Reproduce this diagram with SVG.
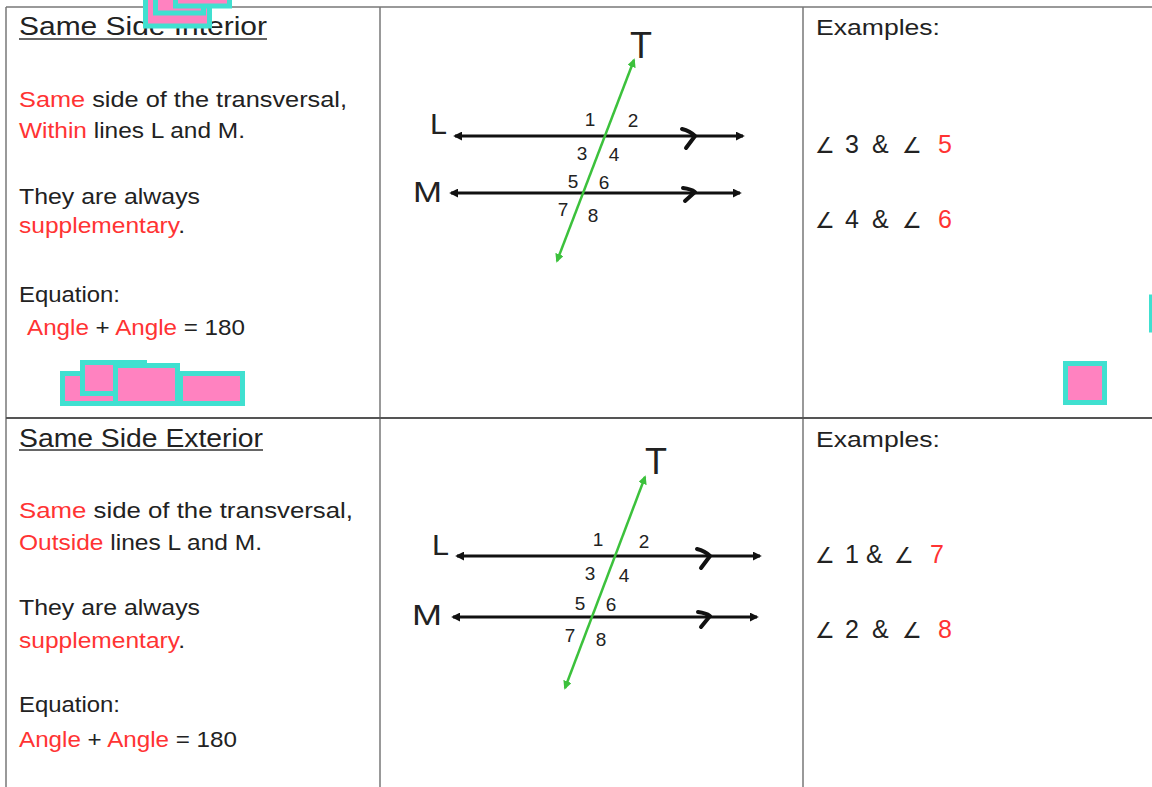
<svg xmlns="http://www.w3.org/2000/svg" width="1152" height="787" viewBox="0 0 1152 787">
<style>
text{font-family:"Liberation Sans","DejaVu Sans",sans-serif;fill:#222}
.r{fill:#ff3333}
.t{font-size:26px}
.b{font-size:22px}
.n{font-size:19px;text-anchor:middle}
.big{font-size:30px}
.ex{font-size:25px}
.ang{font-family:"DejaVu Sans",sans-serif;font-size:22px}
.grid{stroke:#777;stroke-width:1.5;fill:none}
.par{stroke:#111;stroke-width:3;fill:none}
.chev{stroke:#111;stroke-width:4;fill:none;stroke-linecap:round;stroke-linejoin:round}
.tr{stroke:#3cc13c;stroke-width:2.5;fill:none}
.sticky{fill:#ff82c0;stroke:#40e0d0;stroke-width:5}
</style>
<defs>
<marker id="ab" viewBox="0 0 10 10" refX="8" refY="5" markerWidth="3" markerHeight="3" orient="auto-start-reverse"><path d="M0,0 L10,5 L0,10 z" fill="#111"/></marker>
<marker id="ag" viewBox="0 0 10 10" refX="8" refY="5" markerWidth="3.5" markerHeight="3.5" orient="auto-start-reverse"><path d="M0,0 L10,5 L0,10 z" fill="#3cc13c"/></marker>
</defs>
<rect width="1152" height="787" fill="#fff"/>
<g id="grid">
<line x1="6" y1="7" x2="1152" y2="7" stroke="#999" stroke-width="2"/>
<line class="grid" x1="6" y1="7" x2="6" y2="787" stroke="#666"/>
<line class="grid" x1="380" y1="7" x2="380" y2="787"/>
<line class="grid" x1="803" y1="7" x2="803" y2="787"/>
<line x1="6" y1="418" x2="1152" y2="418" stroke="#555" stroke-width="2"/>
</g>
<g id="interior-text">
<text class="t" x="19" y="35" textLength="248" lengthAdjust="spacingAndGlyphs">Same Side Interior</text>
<line x1="19" y1="39" x2="267" y2="39" stroke="#333" stroke-width="1.5"/>
<text class="b" x="19" y="107" textLength="328" lengthAdjust="spacingAndGlyphs"><tspan class="r">Same</tspan> side of the transversal,</text>
<text class="b" x="19" y="138" textLength="226" lengthAdjust="spacingAndGlyphs"><tspan class="r">Within</tspan> lines L and M.</text>
<text class="b" x="19" y="204" textLength="181" lengthAdjust="spacingAndGlyphs">They are always</text>
<text class="b" x="19" y="233" textLength="166" lengthAdjust="spacingAndGlyphs"><tspan class="r">supplementary</tspan>.</text>
<text class="b" x="19" y="302" textLength="101" lengthAdjust="spacingAndGlyphs">Equation:</text>
<text class="b" x="27" y="335" textLength="218" lengthAdjust="spacingAndGlyphs"><tspan class="r">Angle</tspan> + <tspan class="r">Angle</tspan> = 180</text>
</g>
<g id="interior-figure">
<g id="connectors-1">
<line class="par" x1="455" y1="136" x2="743" y2="136" marker-start="url(#ab)" marker-end="url(#ab)"/>
<path class="chev" d="M682,129 Q690,131 695,136 L686,148"/>
<line class="par" x1="451" y1="193" x2="740" y2="193" marker-start="url(#ab)" marker-end="url(#ab)"/>
<path class="chev" d="M683,188 Q691,189 695,192 L685,201"/>
<line class="tr" x1="634" y1="60" x2="557" y2="261" marker-start="url(#ag)" marker-end="url(#ag)"/>
</g>
<text x="641" y="58" text-anchor="middle" style="font-size:36px">T</text>
<text class="big" x="430" y="134" textLength="17" lengthAdjust="spacingAndGlyphs">L</text>
<text class="big" x="413" y="202" textLength="29" lengthAdjust="spacingAndGlyphs">M</text>
<text class="n" x="590" y="126">1</text>
<text class="n" x="633" y="127">2</text>
<text class="n" x="582" y="160">3</text>
<text class="n" x="614" y="161">4</text>
<text class="n" x="573" y="188">5</text>
<text class="n" x="604" y="189">6</text>
<text class="n" x="563" y="216">7</text>
<text class="n" x="593" y="222">8</text>
</g>
<g id="interior-examples">
<text class="b" x="816" y="35" textLength="124" lengthAdjust="spacingAndGlyphs">Examples:</text>
<text class="ang" x="815" y="153">∠</text><text class="ex" x="845" y="153">3</text><text class="ex" x="872" y="153">&amp;</text><text class="ang" x="902" y="153">∠</text><text class="ex r" x="938" y="153">5</text>
<text class="ang" x="815" y="228">∠</text><text class="ex" x="845" y="228">4</text><text class="ex" x="872" y="228">&amp;</text><text class="ang" x="902" y="228">∠</text><text class="ex r" x="938" y="228">6</text>
</g>
<g id="exterior-text">
<text class="t" x="19" y="447" textLength="244" lengthAdjust="spacingAndGlyphs">Same Side Exterior</text>
<line x1="19" y1="450" x2="263" y2="450" stroke="#333" stroke-width="1.5"/>
<text class="b" x="19" y="518" textLength="334" lengthAdjust="spacingAndGlyphs"><tspan class="r">Same</tspan>  side of the transversal,</text>
<text class="b" x="19" y="550" textLength="243" lengthAdjust="spacingAndGlyphs"><tspan class="r">Outside</tspan> lines L and M.</text>
<text class="b" x="19" y="615" textLength="181" lengthAdjust="spacingAndGlyphs">They are always</text>
<text class="b" x="19" y="648" textLength="166" lengthAdjust="spacingAndGlyphs"><tspan class="r">supplementary</tspan>.</text>
<text class="b" x="19" y="712" textLength="101" lengthAdjust="spacingAndGlyphs">Equation:</text>
<text class="b" x="19" y="747" textLength="218" lengthAdjust="spacingAndGlyphs"><tspan class="r">Angle</tspan> + <tspan class="r">Angle</tspan> = 180</text>
</g>
<g id="exterior-figure">
<g id="connectors-2">
<line class="par" x1="457" y1="556" x2="760" y2="556" marker-start="url(#ab)" marker-end="url(#ab)"/>
<path class="chev" d="M697,549 Q705,551 710,556 L701,568"/>
<line class="par" x1="453" y1="617" x2="757" y2="617" marker-start="url(#ab)" marker-end="url(#ab)"/>
<path class="chev" d="M698,612 Q706,613 710,616 L701,627"/>
<line class="tr" x1="645" y1="477" x2="565" y2="688" marker-start="url(#ag)" marker-end="url(#ag)"/>
</g>
<text x="656" y="474" text-anchor="middle" style="font-size:36px">T</text>
<text class="big" x="432" y="555" textLength="17" lengthAdjust="spacingAndGlyphs">L</text>
<text class="big" x="412" y="625" textLength="30" lengthAdjust="spacingAndGlyphs">M</text>
<text class="n" x="598" y="546">1</text>
<text class="n" x="644" y="548">2</text>
<text class="n" x="590" y="580">3</text>
<text class="n" x="624" y="582">4</text>
<text class="n" x="580" y="610">5</text>
<text class="n" x="611" y="611">6</text>
<text class="n" x="570" y="642">7</text>
<text class="n" x="601" y="646">8</text>
</g>
<g id="exterior-examples">
<text class="b" x="816" y="447" textLength="124" lengthAdjust="spacingAndGlyphs">Examples:</text>
<text class="ang" x="815" y="563">∠</text><text class="ex" x="845" y="563">1</text><text class="ex" x="866" y="563">&amp;</text><text class="ang" x="894" y="563">∠</text><text class="ex r" x="930" y="563">7</text>
<text class="ang" x="815" y="638">∠</text><text class="ex" x="845" y="638">2</text><text class="ex" x="872" y="638">&amp;</text><text class="ang" x="902" y="638">∠</text><text class="ex r" x="938" y="638">8</text>
</g>
<g id="stickies">
<rect class="sticky" x="145.5" y="-8" width="64" height="34"/>
<rect class="sticky" x="155.5" y="-8" width="48" height="21"/>
<rect class="sticky" x="175.5" y="-8" width="54" height="14"/>
<rect class="sticky" x="62.5" y="373.5" width="54" height="30"/>
<rect class="sticky" x="180.5" y="373.5" width="62" height="30"/>
<rect class="sticky" x="82.5" y="362.5" width="62" height="31"/>
<rect class="sticky" x="115.5" y="365.5" width="62" height="38"/>
<rect class="sticky" x="1065.5" y="363.5" width="39" height="39"/>
<rect class="sticky" x="1151.5" y="297" width="30" height="33"/>
</g>
</svg>
